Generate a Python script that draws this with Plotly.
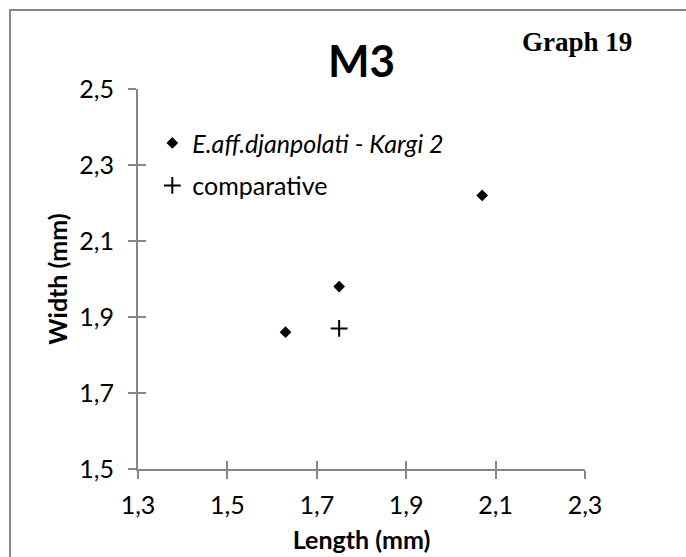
import plotly.graph_objects as go

# Data
kargi_length = [1.63, 1.75, 2.07]
kargi_width = [1.86, 1.98, 2.22]
comp_length = [1.75]
comp_width = [1.87]

x_ticks = [1.3, 1.5, 1.7, 1.9, 2.1, 2.3]
x_tick_labels = ["1,3", "1,5", "1,7", "1,9", "2,1", "2,3"]
y_ticks = [1.5, 1.7, 1.9, 2.1, 2.3, 2.5]
y_tick_labels = ["1,5", "1,7", "1,9", "2,1", "2,3", "2,5"]

FONT = "Lato"
FS = 25
AXIS_GREY = "#868686"

fig = go.Figure()
fig.add_trace(go.Scatter(
    x=kargi_length, y=kargi_width, mode="markers",
    name="<i>E.aff.djanpolati - Kargi 2</i>",
    marker=dict(symbol="diamond", size=9, color="black"),
    legendgroup="a",
))
fig.add_trace(go.Scatter(
    x=comp_length, y=comp_width, mode="markers",
    name="comparative",
    marker=dict(symbol="cross-thin", size=12, color="black",
                line=dict(color="black", width=2)),
    legendgroup="b",
    xaxis="x2", yaxis="y2",
))

common_axis = dict(
    showgrid=False, zeroline=False, automargin=False,
    showline=True, linecolor=AXIS_GREY, linewidth=2,
    ticks="outside", ticklen=8, tickwidth=1.5, tickcolor=AXIS_GREY,
    tickfont=dict(family=FONT, size=FS, color="black"),
)

fig.update_layout(
    width=686, height=557,
    margin=dict(l=138, r=101, t=89, b=88),
    paper_bgcolor="white", plot_bgcolor="white",
    font=dict(family=FONT, color="black"),
    title=dict(text="<b>M3</b>", x=0.5, xref="paper", xanchor="center",
               y=1 - 62 / 557, yref="container", yanchor="middle",
               font=dict(family=FONT, size=44, color="black")),
    xaxis=dict(range=[1.3, 2.3], tickvals=x_ticks, ticktext=x_tick_labels,
               title=dict(text="<b>Length (mm)</b>", standoff=13,
                          font=dict(family=FONT, size=FS, color="black")),
               ticklabelstandoff=5,
               **common_axis),
    yaxis=dict(range=[1.5, 2.5], tickvals=y_ticks, ticktext=y_tick_labels,
               title=dict(text="<b>Width (mm)</b>", standoff=5,
                          font=dict(family=FONT, size=FS, color="black")),
               ticklabelstandoff=9,
               **common_axis),
    xaxis2=dict(range=[1.3, 2.3], tickvals=x_ticks, overlaying="x", anchor="y",
                side="bottom", showgrid=False, zeroline=False, showline=False,
                automargin=False,
                ticks="inside", ticklen=8, tickwidth=1.5, tickcolor=AXIS_GREY,
                showticklabels=False),
    yaxis2=dict(range=[1.5, 2.5], tickvals=y_ticks, overlaying="y", anchor="x",
                side="left", showgrid=False, zeroline=False, showline=False,
                automargin=False,
                ticks="inside", ticklen=8, tickwidth=1.5, tickcolor=AXIS_GREY,
                showticklabels=False),
    legend=dict(x=0.032, y=0.918, xanchor="left", yanchor="top",
                bgcolor="rgba(0,0,0,0)", traceorder="grouped",
                tracegroupgap=7,
                font=dict(family=FONT, size=FS, color="black")),
    showlegend=True,
)

fig.add_shape(type="rect", xref="paper", yref="paper",
              x0=(10 - 138) / 447, x1=1.4, y0=-0.4, y1=(469 - 10) / 380,
              line=dict(color=AXIS_GREY, width=2), fillcolor="rgba(0,0,0,0)",
              layer="below")

fig.add_annotation(text="<b>Graph 19</b>", xref="paper", yref="paper",
                   x=(577 - 138) / 447, y=(469 - 42) / 380,
                   xanchor="center", yanchor="middle", showarrow=False,
                   font=dict(family="Liberation Serif", size=27, color="black"))

fig.write_html("out.html")
